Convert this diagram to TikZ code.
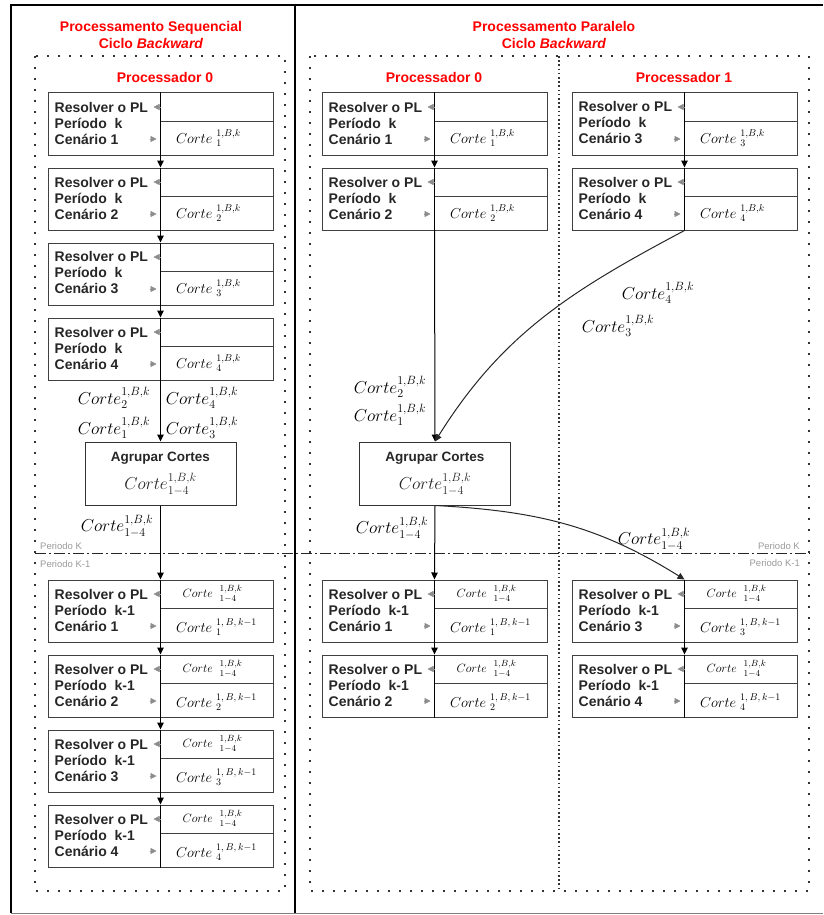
\documentclass[tikz,border=0pt]{standalone}
\usepackage{amsmath}
\usepackage{fontspec}
\setmainfont{Liberation Sans}
\usepackage{tikz}
\usetikzlibrary{arrows.meta,calc}
\newcommand{\Corte}[2]{Corte^{#1}_{#2}}

\begin{document}
\begin{tikzpicture}[x=1pt,y=-1pt,
    pbox/.style={draw=black!75,line width=1pt,minimum width=225pt,minimum height=62pt,inner sep=0pt},
    agbox/.style={draw=black!80,line width=1pt,minimum width=151pt,minimum height=63pt,align=center,inner sep=0pt,
                  font=\fontsize{13.5}{15}\selectfont,text=black!85},
    rotulo/.style={anchor=west,align=left,font=\fontsize{14}{16}\selectfont\bfseries,text=black!85,inner sep=0pt},
    titulo/.style={text=red,font=\fontsize{14}{17}\selectfont\bfseries,align=center},
    proc/.style={text=red,font=\fontsize{14}{16}\selectfont\bfseries},
    celula/.style={font=\fontsize{14}{15}\selectfont,inner sep=0pt},
    celpeq/.style={font=\fontsize{12.5}{12}\selectfont,inner sep=0pt},
    corte/.style={font=\fontsize{16.5}{17}\selectfont,inner sep=0pt},
    periodo/.style={text=black!40,font=\fontsize{9.5}{11}\selectfont,inner sep=0pt},
    fluxo/.style={line width=1pt,-{Triangle[length=7pt,width=6.5pt]}},
    cinza/.style={black!45,line width=0.5pt,-{Triangle[length=6pt,width=6pt]}}]
  \useasboundingbox (0,0) rectangle (823,915);
  % molduras
  \draw[line width=2.5pt] (11,913) -- (11,5) -- (823,5);
  \draw[line width=2.5pt] (295,5) -- (295,913);
  \draw[black!50,line width=1pt] (11,913) -- (823,913);
  \draw[black!80,line width=1.4pt,dash pattern=on 1.6pt off 9.4pt] (35,56) rectangle (285,891);
  \draw[black!80,line width=1.4pt,dash pattern=on 1.6pt off 9.4pt] (310,56) rectangle (809,891);
  \draw[black!80,line width=1.6pt,dash pattern=on 1.6pt off 2.6pt] (559,56) -- (559,891);
  \draw[black!85,line width=1pt,dash pattern=on 11pt off 3pt on 2pt off 3pt] (35,553) -- (810,553);
  % titulos
  \node[titulo] (t0) at (151,35.5) {Processamento Sequencial\\Ciclo \textit{Backward}};
  \node[titulo] (t1) at (554,35.5) {Processamento Paralelo\\Ciclo \textit{Backward}};
  \node[proc] (pr0) at (165,77) {Processador 0};
  \node[proc] (pr1) at (434,77) {Processador 0};
  \node[proc] (pr2) at (684,77) {Processador 1};
  \node[periodo,anchor=west] (pk0) at (40,546) {Periodo K};
  \node[periodo,anchor=west] (pm0) at (40,564) {Periodo K-1};
  \node[periodo,anchor=east] (pk1) at (800,546) {Periodo K};
  \node[periodo,anchor=east] (pm1) at (800,563) {Periodo K-1};
  % periodo k
  \foreach \n/\x/\y/\c in {s1/160.5/124/1,s2/160.5/199/2,s3/160.5/274/3,s4/160.5/349/4,
                           p1/434.5/124/1,p2/434.5/199/2,q1/684.5/124/3,q2/684.5/199/4} {
    \node[pbox] (\n) at (\x,\y) {};
    \draw[black!75,line width=1pt] ($(\n.north)+(0,29)$) -- ($(\n.north east)+(0,29)$);
    \draw[line width=1pt] (\n.north) -- (\n.south);
    \node[rotulo] at ($(\n.west)+(7,-1)$) {Resolver o PL\\Período\ \ k\\Cenário \c};
    \node[celula] at ($(\n.center)+(48,14)$) {$Corte\ {}^{1,B,k}_{\c}$};
    \draw[cinza] ($(\n.center)+(0,-17)$) -- ++(-7,0);
    \draw[cinza] ($(\n.center)+(-11,15)$) -- ++(7,0);
  }
  % periodo k-1
  \foreach \n/\x/\y/\c in {s5/160.5/611/1,s6/160.5/686/2,s7/160.5/761/3,s8/160.5/836/4,
                           p3/434.5/611/1,p4/434.5/686/2,q3/684.5/611/3,q4/684.5/686/4} {
    \node[pbox] (\n) at (\x,\y) {};
    \draw[black!75,line width=1pt] ($(\n.north)+(0,29)$) -- ($(\n.north east)+(0,29)$);
    \draw[line width=1pt] (\n.north) -- (\n.south);
    \node[rotulo] at ($(\n.west)+(7,-1)$) {Resolver o PL\\Período\ \ k-1\\Cenário \c};
    \node[celpeq] at ($(\n.center)+(52,-17)$) {$Corte\ \ {}^{1,B,k}_{1-4}$};
    \node[celula] at ($(\n.center)+(56,16)$) {$Corte\ {}^{1,\,B,\,k-1}_{\c}$};
    \draw[cinza] ($(\n.center)+(0,-17)$) -- ++(-7,0);
    \draw[cinza] ($(\n.center)+(-11,15)$) -- ++(7,0);
  }
  % agrupar cortes
  \node[agbox] (ag0) at (160.5,473.5) {\textbf{Agrupar Cortes}\\[8pt]\fontsize{16.5}{17}\selectfont$\Corte{1,B,k}{1-4}$};
  \node[agbox] (ag1) at (435,473.5) {\textbf{Agrupar Cortes}\\[8pt]\fontsize{16.5}{17}\selectfont$\Corte{1,B,k}{1-4}$};
  % fluxo
  \foreach \a/\b in {s1/s2,s2/s3,s3/s4,s4/ag0,ag0/s5,s5/s6,s6/s7,s7/s8,
                     p1/p2,p2/ag1,ag1/p3,p3/p4,q1/q2,q3/q4}
    \draw[fluxo] (\a.south) -- (\b.north);
  \draw[fluxo,black!85] (q2.south) to[out=208,in=58] (ag1.north);
  \draw[fluxo,black!85] (ag1.south) to[out=-3,in=148] (q3.north);
  % cortes enviados
  \node[corte] (lc2) at (114,398) {$\Corte{1,B,k}{2}$};
  \node[corte] (lc4) at (202,398) {$\Corte{1,B,k}{4}$};
  \node[corte] (lc1) at (114,428) {$\Corte{1,B,k}{1}$};
  \node[corte] (lc3) at (202,428) {$\Corte{1,B,k}{3}$};
  \node[corte] (lcx) at (117,526) {$\Corte{1,B,k}{1-4}$};
  \node[corte] (rc2) at (390,387) {$\Corte{1,B,k}{2}$};
  \node[corte] (rc1) at (390,415) {$\Corte{1,B,k}{1}$};
  \node[corte] (rc4) at (658,293) {$\Corte{1,B,k}{4}$};
  \node[corte] (rc3) at (618,326) {$\Corte{1,B,k}{3}$};
  \node[corte] (rcx) at (392,528) {$\Corte{1,B,k}{1-4}$};
  \node[corte] (rcy) at (654,539) {$\Corte{1,B,k}{1-4}$};
\end{tikzpicture}
\end{document}
